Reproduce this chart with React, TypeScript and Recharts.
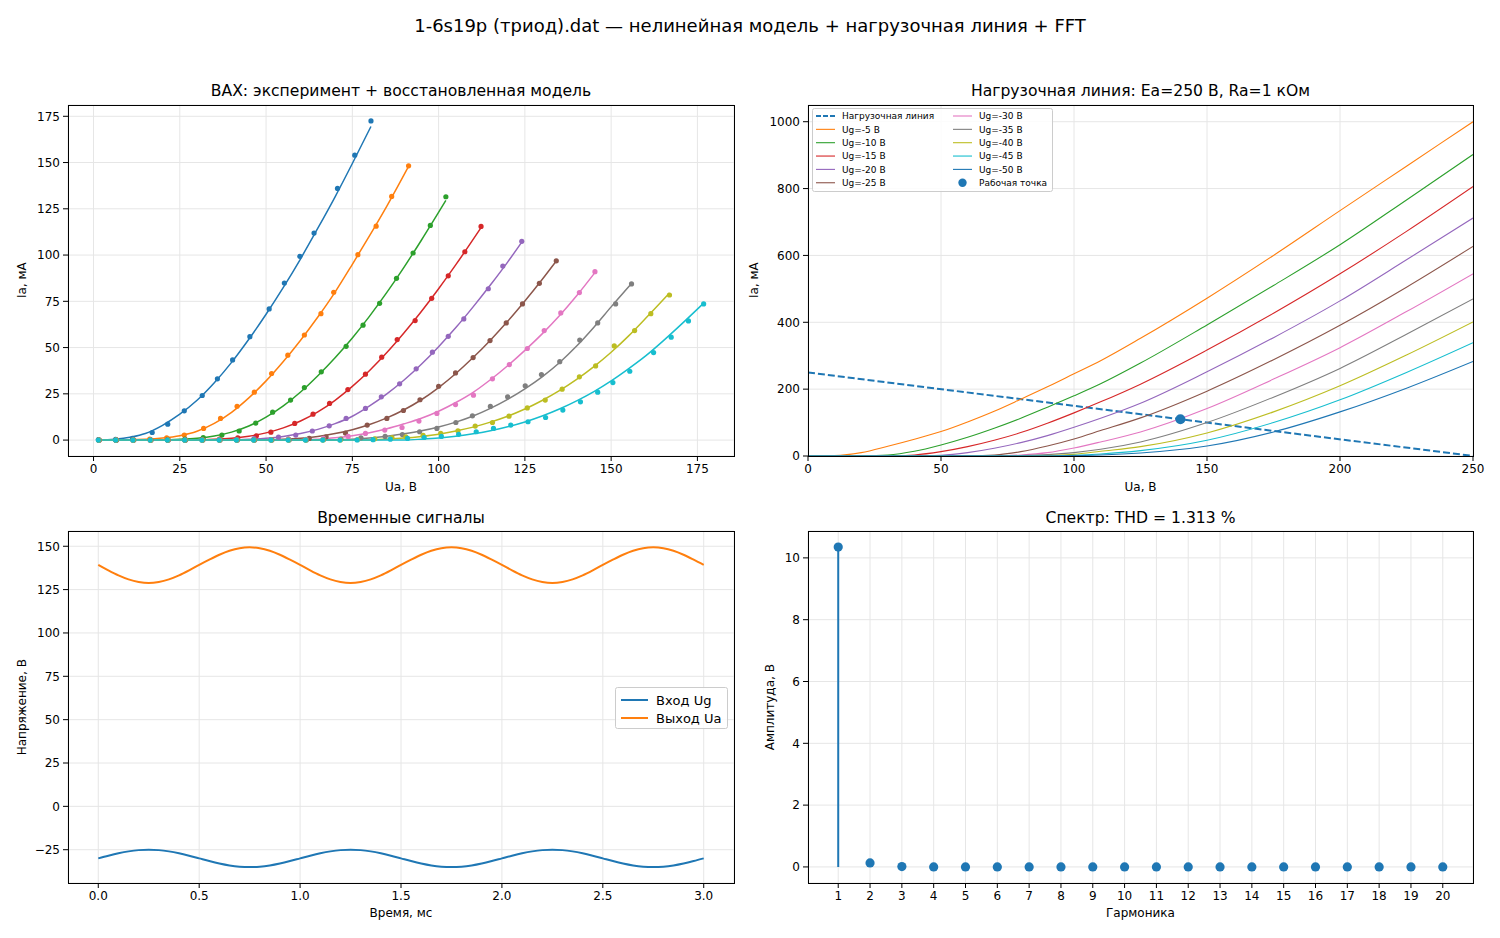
import React from "react";
import {
  ComposedChart,
  Line,
  Scatter,
  XAxis,
  YAxis,
  CartesianGrid,
  ReferenceLine,
} from "recharts";

const FONT = '"DejaVu Sans", Verdana, sans-serif';
const tab10 = ["#1f77b4", "#ff7f0e", "#2ca02c", "#d62728", "#9467bd", "#8c564b", "#e377c2", "#7f7f7f", "#bcbd22", "#17becf"];
const GRID = "#e6e6e6";

// ---------- ВАХ: experimental points [Ua, Ia] per grid voltage ----------
const vaxUg = [0, -5, -10, -15, -20, -25, -30, -35, -40, -45];

const vax0 = [[1.4, 0.3], [6.4, 0.4], [11.3, 0.9], [17.0, 4.1], [21.5, 8.6], [26.3, 15.8], [31.5, 24.1], [35.9, 33.1], [40.3, 43.3], [45.3, 55.9], [50.9, 70.9], [55.3, 84.9], [59.8, 99.3], [63.9, 111.9], [70.7, 136.0], [75.7, 154.0], [80.4, 172.5]];
const vax5 = [[1.6, 0], [6.6, 0.1], [11.5, 0.2], [16.3, 0.5], [21.2, 1.2], [26.3, 2.7], [31.9, 6.3], [36.8, 11.7], [41.6, 18.3], [46.6, 25.9], [51.6, 36.0], [56.3, 45.9], [61.1, 56.8], [65.9, 68.3], [69.6, 79.9], [76.6, 100.2], [81.9, 115.6], [86.4, 131.7], [91.3, 148.2]];
const vax10 = [[1.5, 0], [6.5, 0], [11.5, 0], [16.5, 0.1], [21.5, 0.3], [26.5, 0.6], [31.8, 1.3], [37.2, 2.7], [42.2, 4.9], [47.0, 9.2], [51.9, 15.1], [57.1, 21.6], [61.1, 28.4], [66.0, 36.9], [73.2, 50.7], [78.1, 62.1], [82.9, 73.9], [87.8, 87.4], [92.6, 101.1], [97.6, 116.0], [102.1, 131.5]];
const vax15 = [[1.5, 0], [6.5, 0], [11.5, 0], [16.5, 0], [21.5, 0], [26.5, 0.1], [31.5, 0.2], [36.5, 0.6], [41.8, 1.2], [47.2, 2.3], [51.4, 4.3], [58.3, 9.0], [63.6, 14.0], [68.4, 19.8], [73.7, 27.3], [78.8, 35.6], [83.5, 44.8], [88.0, 54.3], [93.2, 64.6], [98.0, 76.6], [102.8, 88.8], [107.6, 101.8], [112.3, 115.5]];
const vax20 = [[1.5, 0], [6.5, 0], [11.5, 0], [16.5, 0], [21.5, 0], [26.5, 0], [31.5, 0], [36.5, 0.1], [41.5, 0.3], [46.5, 0.8], [53.6, 1.6], [58.6, 2.7], [63.4, 4.9], [68.3, 7.7], [73.2, 11.7], [78.8, 17.1], [83.4, 23.4], [88.7, 30.4], [93.5, 38.5], [98.2, 47.5], [102.8, 56.1], [107.3, 65.5], [114.4, 81.8], [118.6, 94.1], [124.1, 107.4]];
const vax25 = [[1.5, 0], [6.5, 0], [11.5, 0], [16.5, 0], [21.5, 0], [26.5, 0], [31.5, 0], [36.5, 0], [41.5, 0], [46.5, 0.1], [51.5, 0.2], [56.5, 0.5], [62.5, 0.9], [67.4, 1.8], [73.0, 3.8], [79.3, 8.1], [85.0, 11.7], [89.8, 16.0], [94.6, 21.8], [100.0, 29.1], [104.9, 36.3], [110.0, 44.6], [114.9, 53.8], [119.6, 63.3], [124.3, 73.6], [129.2, 84.7], [134.1, 96.9]];
const vax30 = [[1.6, 0], [6.6, 0], [11.6, 0], [16.6, 0], [21.6, 0], [26.6, 0], [31.6, 0], [36.6, 0], [41.6, 0], [46.6, 0], [51.6, 0.1], [56.6, 0.2], [61.6, 0.4], [66.6, 0.9], [73.8, 2.0], [78.8, 3.6], [84.4, 5.4], [89.4, 6.8], [94.3, 10.3], [99.5, 14.4], [104.9, 19.2], [110.1, 24.3], [115.6, 33.1], [120.5, 40.8], [125.7, 49.5], [130.6, 59.2], [135.4, 68.7], [140.8, 79.7], [145.3, 91.0]];
const vax35 = [[1.7, 0], [6.7, 0], [11.7, 0], [16.7, 0], [21.7, 0], [26.7, 0], [31.7, 0], [36.7, 0], [41.7, 0], [46.7, 0], [51.7, 0], [56.7, 0], [61.7, 0.1], [66.7, 0.3], [71.7, 0.6], [77.5, 1.2], [84.5, 2.0], [89.5, 3.0], [94.5, 4.5], [99.5, 6.3], [105.0, 9.5], [109.8, 13.1], [115.0, 18.2], [120.0, 23.4], [125.1, 29.3], [129.8, 35.4], [135.1, 42.4], [140.9, 54.1], [146.1, 63.3], [151.3, 73.6], [155.9, 84.4]];
const vax40 = [[1.5, 0], [6.5, 0], [11.5, 0], [16.5, 0], [21.5, 0], [26.5, 0], [31.5, 0], [36.5, 0], [41.5, 0], [46.5, 0], [51.5, 0], [56.5, 0], [61.5, 0], [66.5, 0], [71.5, 0.1], [76.5, 0.3], [81.5, 0.7], [86.5, 1.3], [90.5, 1.8], [95.5, 2.5], [100.6, 3.6], [105.6, 5.0], [110.6, 7.6], [115.6, 9.5], [120.4, 12.9], [125.7, 17.4], [130.9, 21.6], [135.8, 27.5], [140.8, 34.2], [145.5, 40.1], [150.9, 50.9], [156.8, 59.2], [161.5, 68.3], [166.9, 78.4]];
const vax45 = [[1.4, 0], [6.4, 0], [11.4, 0], [16.4, 0], [21.4, 0], [26.4, 0], [31.4, 0], [36.4, 0], [41.4, 0], [46.4, 0], [51.4, 0], [56.4, 0], [61.4, 0], [66.4, 0], [71.4, 0], [76.4, 0.1], [81.0, 0.2], [86.0, 0.5], [91.0, 0.9], [95.8, 1.4], [100.8, 2.0], [105.8, 3.1], [110.9, 4.5], [115.9, 6.3], [120.9, 8.1], [125.9, 9.9], [131.0, 12.2], [136.0, 16.2], [141.1, 20.7], [146.1, 25.9], [150.5, 31.1], [155.4, 37.2], [162.3, 47.3], [167.4, 55.6], [172.4, 64.4], [176.8, 73.6]];

// ---------- ВАХ: restored model curves [Ua, Ia] ----------
const model0 = [[1.4, 0], [6, 0.4], [11, 1.7], [15, 3.6], [20, 8], [25, 14], [30, 21.5], [35, 31], [40, 42], [45, 54.5], [50, 68], [55, 82.5], [60, 98], [65, 114.5], [70, 131.5], [75, 149.5], [80.4, 169.5]];
const model5 = [[1.6, 0], [10, 0.1], [15, 0.4], [20, 1.1], [25, 2.4], [30, 4.8], [35, 9], [40, 15], [45, 22.8], [50, 32], [55, 42.5], [60, 54], [65, 66.5], [70, 80], [75, 95], [80, 110.5], [85, 126.5], [91.3, 148]];
const model10 = [[1.5, 0], [20, 0.1], [25, 0.4], [30, 1.0], [35, 2.2], [40, 4.3], [45, 7.6], [50, 12.4], [55, 18.5], [60, 26], [65, 34.8], [70, 44.5], [75, 55.2], [80, 67], [85, 79.8], [90, 93.5], [95, 108], [102.1, 129.5]];
const model15 = [[1.5, 0], [30, 0.1], [35, 0.4], [40, 1.0], [45, 2.1], [50, 3.9], [55, 6.6], [60, 10.3], [65, 15.2], [70, 21.5], [75, 29], [80, 37.6], [85, 47.3], [90, 58], [95, 69.5], [100, 81.8], [105, 94.8], [112.3, 114.8]];
const model20 = [[1.5, 0], [40, 0.1], [45, 0.4], [50, 1.0], [55, 2.0], [60, 3.6], [65, 5.8], [70, 8.9], [75, 12.9], [80, 18.5], [85, 25], [90, 32.5], [95, 41], [100, 50.5], [105, 60.8], [110, 72], [115, 83.8], [120, 96.2], [124.1, 107]];
const model25 = [[1.5, 0], [50, 0.1], [55, 0.4], [60, 1.0], [65, 2.0], [70, 3.5], [75, 5.6], [80, 8.4], [85, 12], [90, 16.4], [95, 21.8], [100, 28.4], [105, 36], [110, 44.6], [115, 54], [120, 64.2], [125, 75.2], [130, 86.8], [134.1, 96.8]];
const model30 = [[1.6, 0], [60, 0.1], [65, 0.5], [70, 1.2], [75, 2.4], [80, 4], [85, 6.1], [90, 8.8], [95, 11.8], [100, 15.6], [105, 20.3], [110, 25.8], [115, 32.6], [120, 40.2], [125, 48.5], [130, 57.4], [135, 67.2], [140, 78], [145.3, 90.5]];
const model35 = [[1.7, 0], [70, 0.1], [75, 0.5], [80, 1.1], [85, 2.1], [90, 3.4], [95, 5], [100, 7.1], [105, 9.7], [110, 13], [115, 17.1], [120, 22], [125, 27.7], [130, 34.2], [135, 41.8], [140, 50.8], [145, 61], [150, 72], [155.9, 84.6]];
const model40 = [[1.5, 0], [80, 0.1], [85, 0.5], [90, 1.1], [95, 2.0], [100, 3.2], [105, 4.9], [110, 7.0], [115, 9.7], [120, 12.9], [125, 16.8], [130, 21.4], [135, 26.7], [140, 32.8], [145, 39.7], [150, 47.5], [155, 56.2], [160, 65.8], [166.9, 79.5]];
const model45 = [[1.4, 0], [90, 0.1], [95, 0.5], [100, 1.1], [105, 2.1], [110, 3.4], [115, 5.1], [120, 7.2], [125, 9.8], [130, 13], [135, 16.8], [140, 21.2], [145, 26.2], [150, 32], [155, 38.5], [160, 45.5], [165, 53.5], [170, 62], [176.8, 74]];

const vaxPoints = [vax0, vax5, vax10, vax15, vax20, vax25, vax30, vax35, vax40, vax45];
const vaxModels = [model0, model5, model10, model15, model20, model25, model30, model35, model40, model45];

// ---------- Load line chart: model family on a Ua grid ----------
const uaGrid = [0, 10, 20, 30, 40, 50, 60, 70, 80, 90, 100, 110, 125, 150, 175, 200, 225, 250];
const ia5 = [0, 1, 10, 29, 50, 73, 102, 134, 170, 207, 246, 285, 352, 472, 600, 734, 867, 1000];
const ia10 = [0, 0, 0.5, 3, 14, 33, 56, 83, 113, 146, 180, 216, 278, 392, 510, 632, 766, 902];
const ia15 = [0, 0, 0, 0, 3, 13, 28, 47, 70, 98, 129, 162, 215, 317, 427, 545, 672, 806];
const ia20 = [0, 0, 0, 0, 0, 2, 10, 23, 40, 61, 86, 113, 158, 252, 354, 464, 587, 712];
const ia25 = [0, 0, 0, 0, 0, 0, 0.5, 3, 13, 30, 51, 76, 114, 194, 288, 391, 505, 627];
const ia30 = [0, 0, 0, 0, 0, 0, 0, 0, 3, 10, 24, 42, 72, 142, 230, 324, 432, 545];
const ia35 = [0, 0, 0, 0, 0, 0, 0, 0, 1, 4, 10, 20, 42, 100, 176, 262, 364, 470];
const ia40 = [0, 0, 0, 0, 0, 0, 0, 0, 0, 1, 5, 14, 28, 69, 132, 210, 302, 401];
const ia45 = [0, 0, 0, 0, 0, 0, 0, 0, 0, 0, 2, 6, 16, 47, 100, 168, 250, 339];
const ia50 = [0, 0, 0, 0, 0, 0, 0, 0, 0, 0, 1, 3, 9, 30, 72, 132, 203, 283];
const curveUg = [-5, -10, -15, -20, -25, -30, -35, -40, -45, -50];
const curveIa = [ia5, ia10, ia15, ia20, ia25, ia30, ia35, ia40, ia45, ia50];
const curveColors = [tab10[1], tab10[2], tab10[3], tab10[4], tab10[5], tab10[6], tab10[7], tab10[8], tab10[9], tab10[0]];
const loadUa = [0, 250];
const loadIa = [250, 0];
const opUa = 140;
const opIa = 110;

// ---------- Time signals ----------
const timeMs = [0, 0.05, 0.1, 0.15, 0.2, 0.25, 0.3, 0.35, 0.4, 0.45, 0.5, 0.55, 0.6, 0.65, 0.7, 0.75, 0.8, 0.85, 0.9, 0.95,
  1.0, 1.05, 1.1, 1.15, 1.2, 1.25, 1.3, 1.35, 1.4, 1.45, 1.5, 1.55, 1.6, 1.65, 1.7, 1.75, 1.8, 1.85, 1.9, 1.95,
  2.0, 2.05, 2.1, 2.15, 2.2, 2.25, 2.3, 2.35, 2.4, 2.45, 2.5, 2.55, 2.6, 2.65, 2.7, 2.75, 2.8, 2.85, 2.9, 2.95, 3.0];
const ugSignal = [-30, -28.45, -27.06, -25.96, -25.24, -25, -25.24, -25.96, -27.06, -28.45, -30, -31.55, -32.94, -34.05, -34.76, -35, -34.76, -34.05, -32.94, -31.55,
  -30, -28.45, -27.06, -25.96, -25.24, -25, -25.24, -25.96, -27.06, -28.45, -30, -31.55, -32.94, -34.05, -34.76, -35, -34.76, -34.05, -32.94, -31.55,
  -30, -28.45, -27.06, -25.96, -25.24, -25, -25.24, -25.96, -27.06, -28.45, -30, -31.55, -32.94, -34.05, -34.76, -35, -34.76, -34.05, -32.94, -31.55, -30];
const uaSignal = [139.3, 136.1, 133.2, 130.9, 129.4, 128.8, 129.4, 130.9, 133.2, 136.1, 139.3, 142.3, 145.1, 147.4, 148.9, 149.4, 148.9, 147.4, 145.1, 142.3,
  139.3, 136.1, 133.2, 130.9, 129.4, 128.8, 129.4, 130.9, 133.2, 136.1, 139.3, 142.3, 145.1, 147.4, 148.9, 149.4, 148.9, 147.4, 145.1, 142.3,
  139.3, 136.1, 133.2, 130.9, 129.4, 128.8, 129.4, 130.9, 133.2, 136.1, 139.3, 142.3, 145.1, 147.4, 148.9, 149.4, 148.9, 147.4, 145.1, 142.3, 139.3];

// ---------- Spectrum ----------
const harmonics = [1, 2, 3, 4, 5, 6, 7, 8, 9, 10, 11, 12, 13, 14, 15, 16, 17, 18, 19, 20];
const amplitudes = [10.35, 0.13, 0.01, 0, 0, 0, 0, 0, 0, 0, 0, 0, 0, 0, 0, 0, 0, 0, 0, 0];

const fmt = (v: number) => (v < 0 ? "\u2212" + Math.abs(v) : String(v));
const tickStyle = { fontSize: 12, fill: "#000", fontFamily: FONT };
const axisCommon = {
  type: "number" as const,
  allowDataOverflow: true,
  axisLine: false,
  tickLine: { stroke: "#000" },
  tickSize: 5,
  tickMargin: 3,
  interval: 0 as const,
  tick: tickStyle,
};

const toPts = (arr: number[][]) => arr.map(([v, i]) => ({ v, i }));

function Frame({ left, top, right, bottom }: { left: number; top: number; right: number; bottom: number }) {
  return (
    <div
      style={{
        position: "absolute",
        left,
        top,
        width: right - left + 1,
        height: bottom - top + 1,
        border: "1px solid #000",
        boxSizing: "border-box",
        pointerEvents: "none",
      }}
    />
  );
}

function Text({ x, y, size, children, rotate }: { x: number; y: number; size: number; children: React.ReactNode; rotate?: boolean }) {
  return (
    <div
      style={{
        position: "absolute",
        left: x - 400,
        top: y - size * 0.6,
        width: 800,
        textAlign: "center",
        fontSize: size,
        lineHeight: `${size * 1.2}px`,
        whiteSpace: "nowrap",
        transform: rotate ? "rotate(-90deg)" : undefined,
      }}
    >
      {children}
    </div>
  );
}

function VaxChart() {
  return (
    <ComposedChart width={740} height={386} margin={{ top: 5, right: 6, bottom: 0, left: 0 }}>
      <CartesianGrid stroke={GRID} />
      <XAxis {...axisCommon} dataKey="v" domain={[-7.4, 185.6]} ticks={[0, 25, 50, 75, 100, 125, 150, 175]} height={30} />
      <YAxis {...axisCommon} dataKey="i" domain={[-8.6, 181.1]} ticks={[0, 25, 50, 75, 100, 125, 150, 175]} width={68} tickFormatter={fmt} />
      {vaxUg.map((ug, k) => [
        <Scatter
          key={`p${ug}`}
          data={toPts(vaxPoints[k])}
          isAnimationActive={false}
          shape={(p: any) => <circle cx={p.cx} cy={p.cy} r={2.6} fill={tab10[k]} />}
        />,
        <Line
          key={`m${ug}`}
          data={toPts(vaxModels[k])}
          dataKey="i"
          type="monotone"
          stroke={tab10[k]}
          strokeWidth={1.5}
          dot={false}
          activeDot={false}
          isAnimationActive={false}
        />,
      ])}
    </ComposedChart>
  );
}

function LoadChart() {
  const rows = uaGrid.map((v, k) => {
    const row: Record<string, number> = { v };
    curveUg.forEach((ug, c) => (row[`ug${ug}`] = curveIa[c][k]));
    return row;
  });
  const load = loadUa.map((v, k) => ({ v, load: loadIa[k] }));
  return (
    <ComposedChart width={760} height={386} data={rows} margin={{ top: 5, right: 27, bottom: 0, left: 0 }}>
      <CartesianGrid stroke={GRID} />
      <XAxis {...axisCommon} dataKey="v" domain={[0, 250]} ticks={[0, 50, 100, 150, 200, 250]} height={30} />
      <YAxis {...axisCommon} dataKey="i" domain={[0, 1050]} ticks={[0, 200, 400, 600, 800, 1000]} width={68} />
      <Line data={load} dataKey="load" stroke={tab10[0]} strokeWidth={2} strokeDasharray="7 3" dot={false} activeDot={false} isAnimationActive={false} />
      {curveUg.map((ug, c) => (
        <Line
          key={ug}
          dataKey={`ug${ug}`}
          type="monotone"
          stroke={curveColors[c]}
          strokeWidth={1.1}
          dot={false}
          activeDot={false}
          isAnimationActive={false}
        />
      ))}
      <Scatter
        data={[{ v: opUa, i: opIa }]}
        isAnimationActive={false}
        shape={(p: any) => <circle cx={p.cx} cy={p.cy} r={5} fill={tab10[0]} />}
      />
    </ComposedChart>
  );
}

function SignalChart() {
  const rows = timeMs.map((t, k) => ({ t, ug: ugSignal[k], ua: uaSignal[k] }));
  return (
    <ComposedChart width={740} height={387} data={rows} margin={{ top: 5, right: 6, bottom: 0, left: 0 }}>
      <CartesianGrid stroke={GRID} />
      <XAxis {...axisCommon} dataKey="t" domain={[-0.15, 3.15]} ticks={[0, 0.5, 1, 1.5, 2, 2.5, 3]} tickFormatter={(v: number) => v.toFixed(1)} height={30} />
      <YAxis {...axisCommon} domain={[-44.2, 158.8]} ticks={[-25, 0, 25, 50, 75, 100, 125, 150]} width={68} tickFormatter={fmt} />
      <Line dataKey="ug" type="monotone" stroke={tab10[0]} strokeWidth={2} dot={false} activeDot={false} isAnimationActive={false} />
      <Line dataKey="ua" type="monotone" stroke={tab10[1]} strokeWidth={2} dot={false} activeDot={false} isAnimationActive={false} />
    </ComposedChart>
  );
}

function SpectrumChart() {
  const pts = harmonics.map((h, k) => ({ h, a: amplitudes[k] }));
  return (
    <ComposedChart width={760} height={387} margin={{ top: 5, right: 27, bottom: 0, left: 0 }}>
      <CartesianGrid stroke={GRID} />
      <XAxis {...axisCommon} dataKey="h" domain={[0.05, 20.95]} ticks={harmonics} height={30} />
      <YAxis {...axisCommon} dataKey="a" domain={[-0.52, 10.87]} ticks={[0, 2, 4, 6, 8, 10]} width={68} />
      {pts.map((p) => (
        <ReferenceLine
          key={p.h}
          segment={[{ x: p.h, y: 0 }, { x: p.h, y: p.a }]}
          stroke={tab10[0]}
          strokeWidth={2}
        />
      ))}
      <Scatter
        data={pts}
        isAnimationActive={false}
        shape={(p: any) => <circle cx={p.cx} cy={p.cy} r={4.6} fill={tab10[0]} />}
      />
    </ComposedChart>
  );
}

function LoadLegend() {
  const rowY = (r: number) => 8 + r * 13.35;
  const left = [
    { label: "Нагрузочная линия", color: tab10[0], dashed: true, width: 2 },
    ...curveUg.slice(0, 5).map((ug, c) => ({ label: `Ug=${ug} В`, color: curveColors[c], dashed: false, width: 1.1 })),
  ];
  const right = curveUg.slice(5).map((ug, c) => ({ label: `Ug=${ug} В`, color: curveColors[c + 5], dashed: false, width: 1.1 }));
  return (
    <svg width={241} height={84} style={{ position: "absolute", left: 812, top: 108 }}>
      <rect x={0.5} y={0.5} width={240} height={83} rx={2} fill="rgba(255,255,255,0.85)" stroke="#cccccc" />
      {left.map((e, r) => (
        <g key={e.label}>
          <line x1={4} x2={23} y1={rowY(r)} y2={rowY(r)} stroke={e.color} strokeWidth={e.width} strokeDasharray={e.dashed ? "5 2" : undefined} />
          <text x={30} y={rowY(r) + 3.2} fontSize={9} fontFamily={FONT}>{e.label}</text>
        </g>
      ))}
      {right.map((e, r) => (
        <g key={e.label}>
          <line x1={141} x2={160} y1={rowY(r)} y2={rowY(r)} stroke={e.color} strokeWidth={e.width} />
          <text x={167} y={rowY(r) + 3.2} fontSize={9} fontFamily={FONT}>{e.label}</text>
        </g>
      ))}
      <circle cx={150.5} cy={rowY(5)} r={4.2} fill={tab10[0]} />
      <text x={167} y={rowY(5) + 3.2} fontSize={9} fontFamily={FONT}>Рабочая точка</text>
    </svg>
  );
}

function SignalLegend() {
  const items = [
    { label: "Вход Ug", color: tab10[0] },
    { label: "Выход Ua", color: tab10[1] },
  ];
  return (
    <svg width={113} height={42} style={{ position: "absolute", left: 615, top: 687 }}>
      <rect x={0.5} y={0.5} width={112} height={41} rx={2} fill="rgba(255,255,255,0.85)" stroke="#cccccc" />
      {items.map((e, r) => (
        <g key={e.label}>
          <line x1={6} x2={33} y1={13 + r * 18} y2={13 + r * 18} stroke={e.color} strokeWidth={2} />
          <text x={41} y={17.5 + r * 18} fontSize={13} fontFamily={FONT}>{e.label}</text>
        </g>
      ))}
    </svg>
  );
}

export default function App() {
  return (
    <div
      style={{
        position: "absolute",
        left: 0,
        top: 0,
        width: 1500,
        height: 938,
        background: "#fff",
        fontFamily: FONT,
        color: "#000",
        overflow: "hidden",
      }}
    >
      <Text x={750} y={26} size={18}>1-6s19p (триод).dat — нелинейная модель + нагрузочная линия + FFT</Text>

      <Text x={401} y={91} size={15.6}>ВАХ: эксперимент + восстановленная модель</Text>
      <Text x={1140.5} y={91} size={15.6}>Нагрузочная линия: Ea=250 В, Ra=1 кОм</Text>
      <Text x={401} y={518} size={15.6}>Временные сигналы</Text>
      <Text x={1140.5} y={518} size={15.6}>Спектр: THD = 1.313 %</Text>

      <div style={{ position: "absolute", left: 0, top: 100 }}>
        <VaxChart />
      </div>
      <div style={{ position: "absolute", left: 740, top: 100 }}>
        <LoadChart />
      </div>
      <div style={{ position: "absolute", left: 0, top: 526 }}>
        <SignalChart />
      </div>
      <div style={{ position: "absolute", left: 740, top: 526 }}>
        <SpectrumChart />
      </div>

      <Frame left={68} top={105} right={734} bottom={456} />
      <Frame left={808} top={105} right={1473} bottom={456} />
      <Frame left={68} top={531} right={734} bottom={883} />
      <Frame left={808} top={531} right={1473} bottom={883} />

      <LoadLegend />
      <SignalLegend />

      <Text x={401} y={487} size={12}>Ua, В</Text>
      <Text x={1140.5} y={487} size={12}>Ua, В</Text>
      <Text x={401} y={913} size={12}>Время, мс</Text>
      <Text x={1140.5} y={913} size={12}>Гармоника</Text>
      <Text x={22} y={280} size={12} rotate>Ia, мА</Text>
      <Text x={754} y={280} size={12} rotate>Ia, мА</Text>
      <Text x={22} y={707} size={12} rotate>Напряжение, В</Text>
      <Text x={770} y={707} size={12} rotate>Амплитуда, В</Text>
    </div>
  );
}
